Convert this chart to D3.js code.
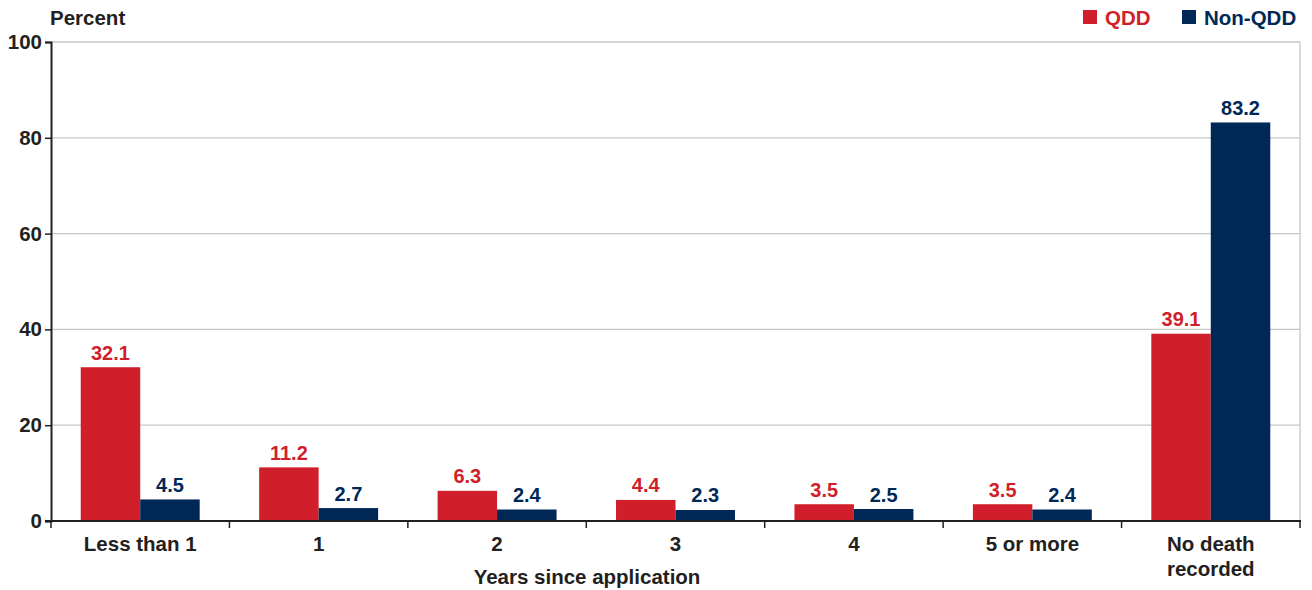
<!DOCTYPE html>
<html>
<head>
<meta charset="utf-8">
<script src="https://cdn.jsdelivr.net/npm/d3@7"></script>
<style>
  html, body { margin: 0; padding: 0; background: #fff; }
  svg { display: block; font-family: "Liberation Sans", Arial, sans-serif; }
</style>
</head>
<body>
<svg id="chart" width="1312" height="590"></svg>
<script>
// Years since application, with share of applicants (percent)
const categories = ["Less than 1", "1", "2", "3", "4", "5 or more", "No death recorded"];
const qddValues = [32.1, 11.2, 6.3, 4.4, 3.5, 3.5, 39.1];
const nonQddValues = [4.5, 2.7, 2.4, 2.3, 2.5, 2.4, 83.2];
const yTicks = [0, 20, 40, 60, 80, 100];
const seriesNames = ["QDD", "Non-QDD"];
const seriesColors = ["#d01f2a", "#002856"];

const svg = d3.select("#chart");
const margin = { left: 51, right: 12, top: 42, bottom: 69 };
const W = 1312, H = 590;
const x0 = margin.left, x1 = W - margin.right;
const y0 = H - margin.bottom, y1 = margin.top;

const x = d3.scaleBand().domain(categories).range([x0, x1]).paddingInner(0).paddingOuter(0);
const xs = d3.scaleBand().domain(seriesNames).range([0, x.bandwidth()]).paddingInner(0).paddingOuter(0.5);
const y = d3.scaleLinear().domain([0, 100]).range([y0, y1]);

const ink = "#231f20";
const labelSize = 20.5;
const valueSize = 20;

// gridlines
svg.append("g")
  .selectAll("line")
  .data(yTicks.filter(d => d > 0))
  .join("line")
  .attr("x1", x0).attr("x2", x1)
  .attr("y1", d => y(d)).attr("y2", d => y(d))
  .attr("stroke", "#c6c6c6").attr("stroke-width", 1.3);

// right frame edge
svg.append("line")
  .attr("x1", x1).attr("x2", x1).attr("y1", y1).attr("y2", y0)
  .attr("stroke", "#c6c6c6").attr("stroke-width", 1.3);

// bars
const rows = categories.map((c, i) => ({ c, vals: [qddValues[i], nonQddValues[i]] }));
const groups = svg.append("g").selectAll("g")
  .data(rows).join("g")
  .attr("transform", d => `translate(${x(d.c)},0)`);

groups.selectAll("rect")
  .data(d => d.vals.map((v, j) => ({ v, s: seriesNames[j], j })))
  .join("rect")
  .attr("x", d => xs(d.s))
  .attr("width", xs.bandwidth())
  .attr("y", d => y(d.v))
  .attr("height", d => y(0) - y(d.v))
  .attr("fill", d => seriesColors[d.j]);

groups.selectAll("text")
  .data(d => d.vals.map((v, j) => ({ v, s: seriesNames[j], j })))
  .join("text")
  .attr("x", d => xs(d.s) + xs.bandwidth() / 2)
  .attr("y", d => y(d.v) - 7.5)
  .attr("text-anchor", "middle")
  .attr("font-size", valueSize).attr("font-weight", "bold")
  .attr("fill", d => seriesColors[d.j])
  .text(d => d.v.toFixed(1));

// y axis
const yAxis = svg.append("g")
  .attr("transform", `translate(${x0},0)`)
  .call(d3.axisLeft(y).tickValues(yTicks).tickSize(6).tickPadding(3));
yAxis.select(".domain").attr("stroke", ink).attr("stroke-width", 2);
yAxis.selectAll(".tick line").attr("stroke", ink).attr("stroke-width", 1.5);
yAxis.selectAll(".tick text")
  .attr("font-size", labelSize).attr("font-weight", "bold").attr("fill", ink)
  .attr("font-family", "Liberation Sans, Arial, sans-serif");

// x axis with boundary ticks between categories
svg.append("line")
  .attr("x1", x0 - 6).attr("x2", x1 + 1)
  .attr("y1", y0).attr("y2", y0)
  .attr("stroke", ink).attr("stroke-width", 2);
const bounds = categories.map(c => x(c)).concat([x1]);
svg.append("g").selectAll("line")
  .data(bounds).join("line")
  .attr("x1", d => d).attr("x2", d => d)
  .attr("y1", y0).attr("y2", y0 + 7)
  .attr("stroke", ink).attr("stroke-width", 1.5);

// category labels (long ones wrap onto two lines)
const catLabels = svg.append("g").selectAll("text")
  .data(categories).join("text")
  .attr("x", d => x(d) + x.bandwidth() / 2)
  .attr("y", y0 + 30)
  .attr("text-anchor", "middle")
  .attr("font-size", labelSize).attr("font-weight", "bold").attr("fill", ink);
catLabels.each(function(d) {
  const t = d3.select(this);
  const lines = d === "No death recorded" ? ["No death", "recorded"] : [d];
  lines.forEach((ln, i) => {
    t.append("tspan").attr("x", x(d) + x.bandwidth() / 2).attr("dy", i === 0 ? 0 : 25).text(ln);
  });
});

// axis titles
svg.append("text")
  .attr("x", 587).attr("y", y0 + 63)
  .attr("text-anchor", "middle")
  .attr("font-size", labelSize).attr("font-weight", "bold").attr("fill", ink)
  .text("Years since application");

svg.append("text")
  .attr("x", 50).attr("y", 25)
  .attr("font-size", labelSize).attr("font-weight", "bold").attr("fill", ink)
  .text("Percent");

// legend
const legend = svg.append("g");
const legendItems = [{ name: "QDD", x: 1083 }, { name: "Non-QDD", x: 1182 }];
legendItems.forEach((it, i) => {
  legend.append("rect").attr("x", it.x).attr("y", 10).attr("width", 14).attr("height", 14).attr("fill", seriesColors[i]);
  legend.append("text").attr("x", it.x + 22).attr("y", 25)
    .attr("font-size", labelSize).attr("font-weight", "bold").attr("fill", seriesColors[i])
    .text(it.name);
});
</script>
</body>
</html>
